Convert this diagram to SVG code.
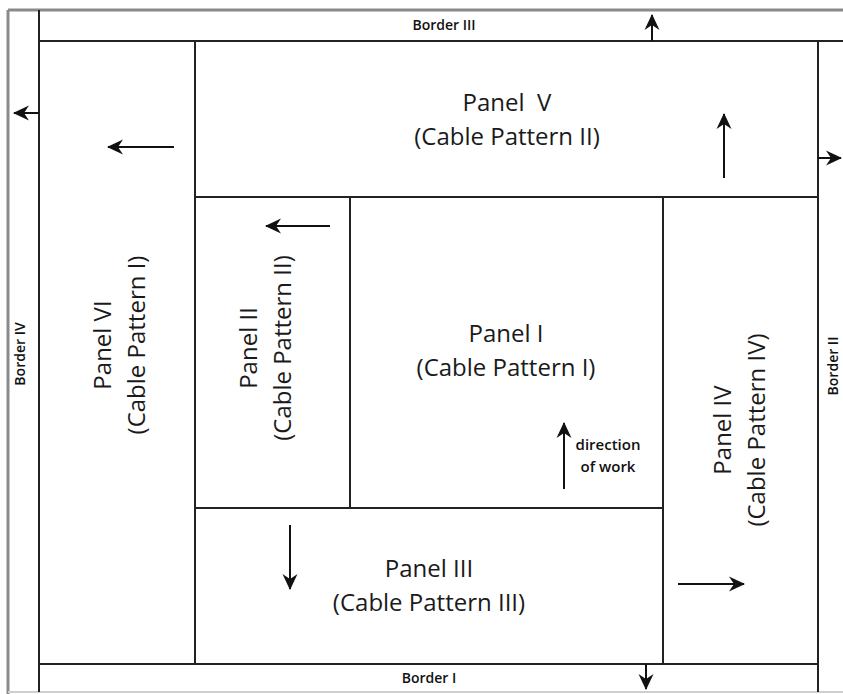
<svg xmlns="http://www.w3.org/2000/svg" width="843" height="694" viewBox="0 0 843 694">
  <style>
    .frame { stroke: #8a8a8a; stroke-width: 3; fill: none; }
    .line { stroke: #222; stroke-width: 2; fill: none; }
    .arrow { stroke: #111; stroke-width: 2; fill: none; marker-end: url(#head); }
    .big { font-family: "Open Sans", "Liberation Sans", sans-serif; font-size: 24px; fill: #1a1a1a; text-anchor: middle; }
    .small { font-family: "Open Sans", "Liberation Sans", sans-serif; font-size: 14px; font-weight: 600; fill: #111; text-anchor: middle; }
    .note { font-family: "Open Sans", "Liberation Sans", sans-serif; font-size: 15px; font-weight: 600; fill: #111; text-anchor: middle; }
  </style>
  <defs>
    <marker id="head" markerUnits="userSpaceOnUse" markerWidth="20" markerHeight="20" refX="0" refY="0" viewBox="-16 -10 20 20" orient="auto">
      <path d="M-15,-7.5 L1,0 L-15,7.5 L-10,0 Z" fill="#111"/>
    </marker>
  </defs>
  <rect width="843" height="694" fill="#fff"/>

  <g id="frame">
    <line class="frame" x1="8" y1="10" x2="8" y2="694"/>
    <line class="frame" x1="8" y1="10" x2="843" y2="10"/>
    <line x1="8" y1="692" x2="843" y2="692" stroke="#cfcfcf" stroke-width="2"/>
  </g>

  <g id="border-iii">
    <line class="line" x1="39" y1="41" x2="843" y2="41"/>
    <text class="small" x="444" y="30">Border III</text>
  </g>
  <g id="border-iv">
    <line class="line" x1="39" y1="10" x2="39" y2="692"/>
    <text class="small" transform="translate(25,354) rotate(-90)">Border IV</text>
  </g>
  <g id="border-ii">
    <line class="line" x1="818" y1="41" x2="818" y2="692"/>
    <text class="small" transform="translate(838,366) rotate(-90)">Border II</text>
  </g>
  <g id="border-i">
    <line class="line" x1="39" y1="664" x2="818" y2="664"/>
    <text class="small" x="429" y="683">Border I</text>
  </g>

  <g id="panel-vi">
    <line class="line" x1="195" y1="41" x2="195" y2="664"/>
    <text class="big" transform="translate(111,345) rotate(-90)">Panel VI</text>
    <text class="big" transform="translate(145,345) rotate(-90)">(Cable Pattern I)</text>
  </g>
  <g id="panel-v">
    <line class="line" x1="195" y1="197" x2="818" y2="197"/>
    <text class="big" x="507" y="111" xml:space="preserve">Panel  V</text>
    <text class="big" x="507" y="145">(Cable Pattern II)</text>
  </g>
  <g id="panel-ii">
    <line class="line" x1="350" y1="197" x2="350" y2="508"/>
    <text class="big" transform="translate(257,348) rotate(-90)">Panel II</text>
    <text class="big" transform="translate(291,348) rotate(-90)">(Cable Pattern II)</text>
  </g>
  <g id="panel-i">
    <text class="big" x="506" y="342">Panel I</text>
    <text class="big" x="506" y="376">(Cable Pattern I)</text>
    <text class="note" x="608" y="450">direction</text>
    <text class="note" x="608" y="472">of work</text>
  </g>
  <g id="panel-iii">
    <line class="line" x1="195" y1="508" x2="663" y2="508"/>
    <text class="big" x="429" y="577">Panel III</text>
    <text class="big" x="429" y="611">(Cable Pattern III)</text>
  </g>
  <g id="panel-iv">
    <line class="line" x1="663" y1="197" x2="663" y2="664"/>
    <text class="big" transform="translate(731,430) rotate(-90)">Panel IV</text>
    <text class="big" transform="translate(765,430) rotate(-90)">(Cable Pattern IV)</text>
  </g>

  <g id="connectors">
    <line class="arrow" x1="39" y1="113" x2="14" y2="113"/>
    <line class="arrow" x1="174" y1="147" x2="108" y2="147"/>
    <line class="arrow" x1="724" y1="178" x2="724" y2="114"/>
    <line class="arrow" x1="652" y1="41" x2="652" y2="15"/>
    <line class="arrow" x1="818" y1="158" x2="841" y2="158"/>
    <line class="arrow" x1="330" y1="226" x2="266" y2="226"/>
    <line class="arrow" x1="290" y1="525" x2="290" y2="589"/>
    <line class="arrow" x1="678" y1="584" x2="744" y2="584"/>
    <line class="arrow" x1="646" y1="664" x2="646" y2="689"/>
    <line class="arrow" x1="564" y1="489" x2="564" y2="423"/>
  </g>
</svg>
